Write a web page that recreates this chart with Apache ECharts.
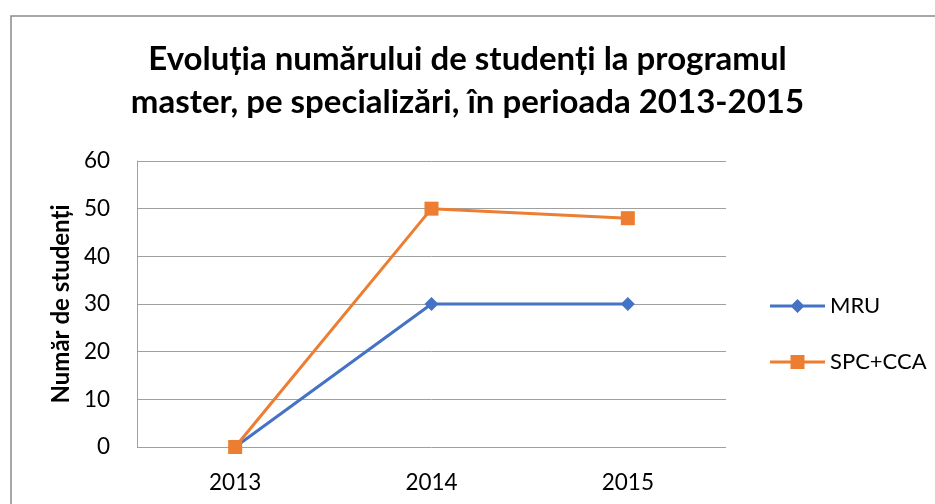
<!DOCTYPE html>
<html>
<head>
<meta charset="utf-8">
<script src="https://cdn.jsdelivr.net/npm/echarts@6/dist/echarts.min.js"></script>
<style>
html,body{margin:0;padding:0;background:#fff;}
#chart{width:935px;height:504px;}
</style>
</head>
<body>
<div id="chart"></div>
<script>
const titleText = 'Evoluția numărului de studenți la programul\nmaster, pe specializări, în perioada 2013-2015';
const yAxisName = 'Număr de studenți';
const categories = ['2013', '2014', '2015'];
const seriesNames = ['MRU', 'SPC+CCA'];
const mruValues = [0, 30, 30];
const spcValues = [0, 50, 48];
const yTicks = { min: 0, max: 60, interval: 10 };

const FONT = 'Lato';
const legendIcons = [
  'path://M0 6.5H55V9.5H0Z M27.5 1L34.5 8L27.5 15L20.5 8Z',
  'path://M0 6.5H55V9.5H0Z M20.5 1H34.5V15H20.5Z'
];
const chart = echarts.init(document.getElementById('chart'), null, { renderer: 'canvas' });
chart.setOption({
  backgroundColor: '#fff',
  animation: false,
  graphic: [{
    type: 'rect',
    shape: { x: 11, y: 16, width: 1000, height: 600 },
    style: { fill: 'none', stroke: '#8a8a8a', lineWidth: 1.5 },
    silent: true
  }],
  title: {
    text: titleText,
    left: 'center',
    top: 33,
    textStyle: { fontFamily: FONT, fontSize: 33, fontWeight: 'bold', color: '#000', lineHeight: 43 }
  },
  legend: {
    orient: 'vertical',
    left: 765,
    top: 290,
    itemWidth: 55,
    itemHeight: 14,
    itemGap: 34,
    data: seriesNames.map((n, i) => ({ name: n, icon: legendIcons[i] })),
    textStyle: { fontFamily: FONT, fontSize: 22, color: '#000', padding: [0, 0, 0, 0] }
  },
  grid: { left: 137, right: 209, top: 161, bottom: 57, containLabel: false },
  xAxis: {
    type: 'category',
    data: categories,
    boundaryGap: true,
    axisLine: { show: false },
    axisTick: { show: false },
    axisLabel: { fontFamily: FONT, fontSize: 22.5, color: '#000', margin: 24 }
  },
  yAxis: {
    type: 'value',
    min: yTicks.min,
    max: yTicks.max,
    interval: yTicks.interval,
    name: yAxisName,
    nameLocation: 'middle',
    nameRotate: 90,
    nameGap: 64,
    nameTextStyle: { fontFamily: FONT, fontSize: 24, fontWeight: 'bold', color: '#000' },
    axisLine: { show: true, lineStyle: { color: '#a0a0a0', width: 1 } },
    axisTick: { show: false },
    splitLine: { show: true, lineStyle: { color: '#a0a0a0', width: 1 } },
    axisLabel: { fontFamily: FONT, fontSize: 22.5, color: '#000', margin: 27 }
  },
  series: [
    {
      name: seriesNames[0],
      type: 'line',
      data: mruValues,
      color: '#4472C4',
      symbol: 'diamond',
      symbolSize: 14,
      lineStyle: { width: 3, color: '#4472C4' },
      itemStyle: { color: '#4472C4' },
      z: 2
    },
    {
      name: seriesNames[1],
      type: 'line',
      data: spcValues,
      color: '#ED7D31',
      symbol: 'rect',
      symbolSize: 14,
      lineStyle: { width: 3, color: '#ED7D31' },
      itemStyle: { color: '#ED7D31' },
      z: 3
    }
  ]
});
</script>
</body>
</html>
